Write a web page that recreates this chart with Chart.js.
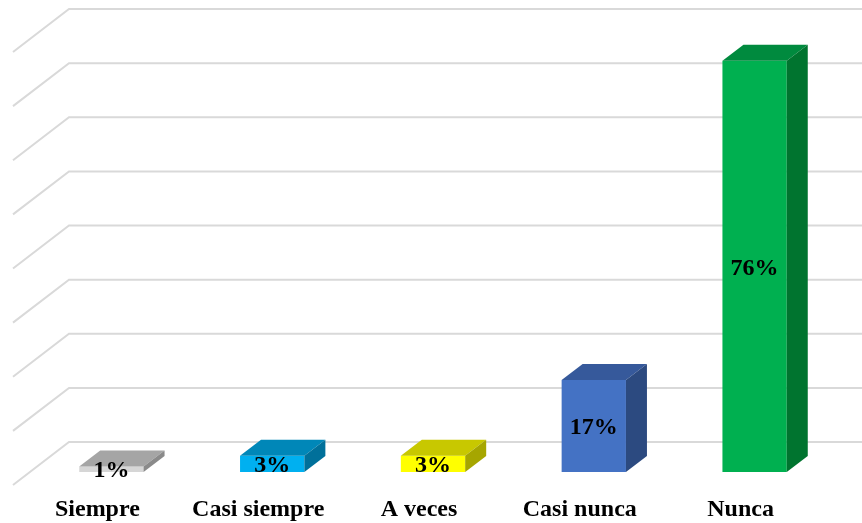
<!DOCTYPE html>
<html>
<head>
<meta charset="utf-8">
<script src="https://cdn.jsdelivr.net/npm/chart.js@4.4.1/dist/chart.umd.min.js"></script>
<style>
  html, body { margin: 0; padding: 0; background: #fff; }
  #chart { display: block; }
</style>
</head>
<body>
<canvas id="chart" width="862" height="523"></canvas>
<script>
const categories = ['Siempre', 'Casi siempre', 'A veces', 'Casi nunca', 'Nunca'];
const percentages = [1, 3, 3, 17, 76];
const gridValues = [0, 10, 20, 30, 40, 50, 60, 70, 80];

// front / top / side shades for each bar
const frontColors = ['#d6d6d6', '#00b0f0', '#ffff00', '#4472c4', '#00b050'];
const topColors = ['#a5a5a5', '#0087b8', '#c8c800', '#36599b', '#008a3e'];
const sideColors = ['#8a8a8a', '#00709a', '#a6a600', '#2c4a80', '#00742f'];

// depth of each bar and of the floor/back wall, relative to the bar front plane
const BAR_DX = 21, BAR_DY = -16;
const BACK_DX = 38, BACK_DY = -30;
const FRONT_DX = -18, FRONT_DY = 13;

const labelFont = 'bold 24px "Liberation Serif", "Times New Roman", serif';

const wallsPlugin = {
  id: 'walls',
  beforeDatasetsDraw(chart) {
    const { ctx, chartArea, scales } = chart;
    ctx.save();
    ctx.strokeStyle = '#d9d9d9';
    ctx.lineWidth = 2;
    gridValues.forEach(v => {
      const y = scales.y.getPixelForValue(v);
      const bx = chartArea.left + BACK_DX, by = y + BACK_DY;
      ctx.beginPath();
      ctx.moveTo(chartArea.left + FRONT_DX, y + FRONT_DY);
      ctx.lineTo(bx, by);
      ctx.lineTo(chart.width, by);
      ctx.stroke();
    });
    ctx.restore();
  }
};

const boxPlugin = {
  id: 'boxes',
  afterDatasetsDraw(chart) {
    const { ctx } = chart;
    const meta = chart.getDatasetMeta(0);
    ctx.save();
    meta.data.forEach((bar, i) => {
      const { x, y, base, width } = bar.getProps(['x', 'y', 'base', 'width'], true);
      const l = x - width / 2, r = x + width / 2;
      // top face
      ctx.fillStyle = topColors[i];
      ctx.beginPath();
      ctx.moveTo(l, y);
      ctx.lineTo(r, y);
      ctx.lineTo(r + BAR_DX, y + BAR_DY);
      ctx.lineTo(l + BAR_DX, y + BAR_DY);
      ctx.closePath();
      ctx.fill();
      // right side face
      ctx.fillStyle = sideColors[i];
      ctx.beginPath();
      ctx.moveTo(r, y);
      ctx.lineTo(r + BAR_DX, y + BAR_DY);
      ctx.lineTo(r + BAR_DX, base + BAR_DY);
      ctx.lineTo(r, base);
      ctx.closePath();
      ctx.fill();
    });
    // value labels in the middle of the front face
    ctx.fillStyle = '#000';
    ctx.font = labelFont;
    ctx.textAlign = 'center';
    ctx.textBaseline = 'middle';
    meta.data.forEach((bar, i) => {
      const { x, y, base } = bar.getProps(['x', 'y', 'base'], true);
      ctx.fillText(percentages[i] + '%', x, (y + base) / 2 + 2);
    });
    ctx.restore();
  }
};

new Chart(document.getElementById('chart'), {
  type: 'bar',
  data: {
    labels: categories,
    datasets: [{
      data: percentages,
      backgroundColor: frontColors,
      borderWidth: 0,
      barPercentage: 0.4,
      categoryPercentage: 1.0
    }]
  },
  options: {
    responsive: false,
    animation: false,
    layout: { padding: { left: 31, right: 27, top: 39, bottom: 0 } },
    plugins: {
      legend: { display: false },
      tooltip: { enabled: false }
    },
    scales: {
      x: {
        grid: { display: false },
        border: { display: false },
        ticks: {
          color: '#000',
          font: { family: '"Liberation Serif", "Times New Roman", serif', size: 24, weight: 'bold' },
          labelOffset: -14,
          padding: 15,
          maxRotation: 0,
          autoSkip: false
        },
        afterFit(scale) { scale.height = 51; }
      },
      y: {
        display: false,
        min: 0,
        max: 80
      }
    }
  },
  plugins: [wallsPlugin, boxPlugin]
});
</script>
</body>
</html>
